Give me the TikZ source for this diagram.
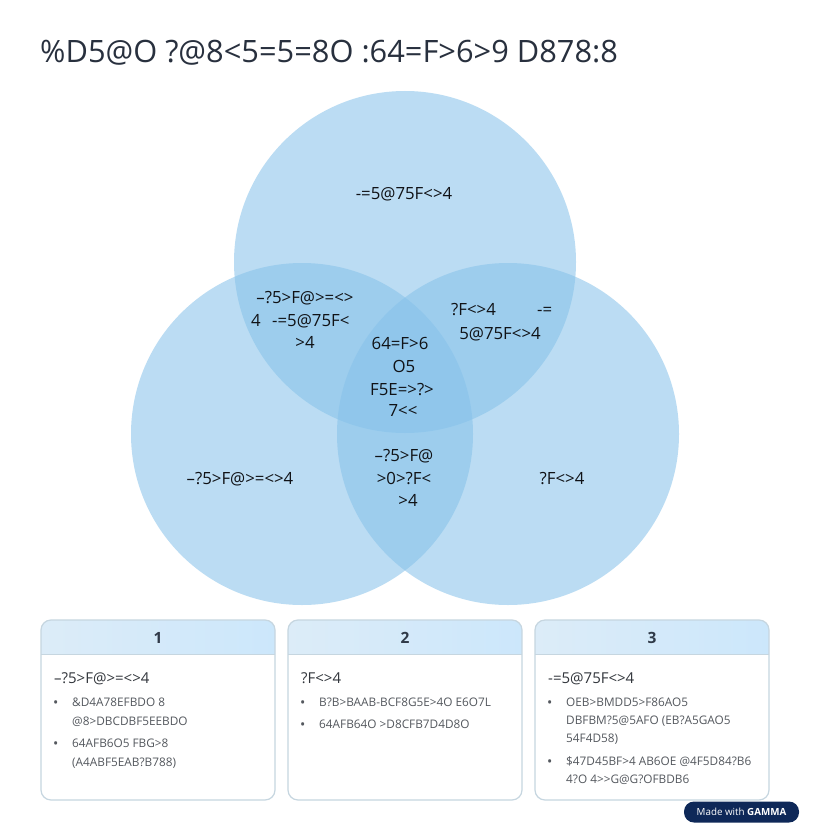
\documentclass[tikz,border=0pt]{standalone}
\usepackage{fontspec}
\setmainfont{Open Sans}
\definecolor{venn}{RGB}{134,194,234}
\definecolor{titlec}{RGB}{40,48,62}
\definecolor{vtext}{RGB}{16,18,22}
\definecolor{boxline}{RGB}{198,214,224}
\definecolor{hdrL}{RGB}{220,236,248}
\definecolor{hdrR}{RGB}{204,231,251}
\definecolor{hdrtext}{RGB}{48,58,72}
\definecolor{bodyhead}{RGB}{50,54,60}
\definecolor{bodytext}{RGB}{84,88,94}
\definecolor{badge}{RGB}{14,40,88}
\begin{document}
\begin{tikzpicture}[x=1pt,y=-1pt,
  vcircle/.style={circle,minimum size=342pt,inner sep=0pt,fill=venn,fill opacity=0.56,draw=none},
  vlab/.style={anchor=base,text=vtext,font=\fontsize{16.8}{19}\selectfont,inner sep=0pt},
  vlabw/.style={anchor=base west,text=vtext,font=\fontsize{16.8}{19}\selectfont,inner sep=0pt},
  hnum/.style={anchor=center,text=hdrtext,font=\bfseries\fontsize{15.5}{18}\selectfont,inner sep=0pt},
  bhead/.style={anchor=base west,text=bodyhead,font=\fontsize{15}{17}\selectfont,inner sep=0pt},
  btext/.style={anchor=base west,text=bodytext,font=\fontsize{11.8}{14}\selectfont,inner sep=0pt},
  bdot/.style={anchor=base west,text=bodytext,font=\fontsize{14}{14}\selectfont,inner sep=0pt}
]
\useasboundingbox (0,0) rectangle (816,832);
\fill[white] (0,0) rectangle (816,832);

% title
\node[anchor=base west,text=titlec,font=\fontsize{30.8}{34}\selectfont,inner sep=0pt] (title) at (40,63) {\%D5@O ?@8<5=5=8O :64=F>6>9 D878:8};

% venn circles
\node[vcircle] (cTop) at (405,262) {};
\node[vcircle] (cLeft) at (302,434) {};
\node[vcircle] (cRight) at (508,434) {};

% venn labels
\node[vlab] (lTop) at (404,199) {-=5@75F<>4};
\node[vlab] (lTL1) at (305,303) {–?5>F@>=<>};
\node[vlabw] (lTL2a) at (251,326) {4};
\node[vlabw] (lTL2b) at (272,326) {-=5@75F<};
\node[vlab] (lTL3) at (305,348) {>4};
\node[vlab] (lC1) at (400,349) {64=F>6};
\node[vlab] (lC2) at (404,372) {O5};
\node[vlab] (lC3) at (402,395) {F5E=>?>};
\node[vlab] (lC4) at (403,416) {7<\kern0pt<};
\node[vlabw] (lTR1a) at (451,315) {?F<>4};
\node[vlabw] (lTR1b) at (537,315) {-=};
\node[vlab] (lTR2) at (500,339) {5@75F<>4};
\node[vlab] (lB1) at (404,461) {–?5>F@};
\node[vlab] (lB2) at (404,484) {>0>?F<};
\node[vlab] (lB3) at (408,506) {>4};
\node[vlab] (lL) at (240,484) {–?5>F@>=<>4};
\node[vlab] (lR) at (562,484) {?F<>4};

% boxes
\foreach \bx/\num in {41/1,288/2,535/3}{
  \begin{scope}
    \clip[rounded corners=10pt] (\bx,620) rectangle ++(234,180);
    \fill[white] (\bx,620) rectangle ++(234,180);
    \shade[left color=hdrL,right color=hdrR] (\bx,620) rectangle ++(234,34);
  \end{scope}
  \draw[boxline,line width=0.6pt] (\bx,654) -- ++(234,0);
  \draw[boxline,line width=1.2pt,rounded corners=10pt] (\bx,620) rectangle ++(234,180);
  \node[hnum] (h\num) at ({\bx+117},638) {\num};
}

% box 1
\node[bhead] (b1h) at (54,683) {–?5>F@>=<>4};
\node[bdot] (b1d1) at (53,707) {•};
\node[btext] (b1t1) at (72,706) {\&D4A78EFBDO 8};
\node[btext] (b1t2) at (72,725) {@8>DBCDBF5EEBDO};
\node[bdot] (b1d2) at (53,748) {•};
\node[btext] (b1t3) at (72,747) {64AFB6O5 FBG>8};
\node[btext] (b1t4) at (72,766) {(A4ABF5EAB?B788)};

% box 2
\node[bhead] (b2h) at (301,683) {?F<>4};
\node[bdot] (b2d1) at (300,707) {•};
\node[btext] (b2t1) at (319,706) {B?B>BAAB-BCF8G5E>4O E6O7L};
\node[bdot] (b2d2) at (300,729) {•};
\node[btext] (b2t2) at (319,728) {64AFB64O >D8CFB7D4D8O};

% box 3
\node[bhead] (b3h) at (548,683) {-=5@75F<>4};
\node[bdot] (b3d1) at (547,707) {•};
\node[btext] (b3t1) at (566,706) {OEB>BMDD5>F86AO5};
\node[btext] (b3t2) at (566,724) {DBFBM?5@5AFO (EB?A5GAO5};
\node[btext] (b3t3) at (566,742) {54F4D58)};
\node[bdot] (b3d2) at (547,766) {•};
\node[btext] (b3t4) at (566,765) {\$47D45BF>4 AB6OE @4F5D84?B6};
\node[btext] (b3t5) at (566,783) {4?O 4>\kern0pt>G@G?OFBDB6};

% badge
\node[fill=badge,rounded corners=10pt,minimum width=115pt,minimum height=21pt,inner sep=0pt,text=white,font=\fontsize{9.8}{11}\selectfont] (badge) at (741.5,812) {Made with \textbf{GAMMA}};
\end{tikzpicture}
\end{document}
